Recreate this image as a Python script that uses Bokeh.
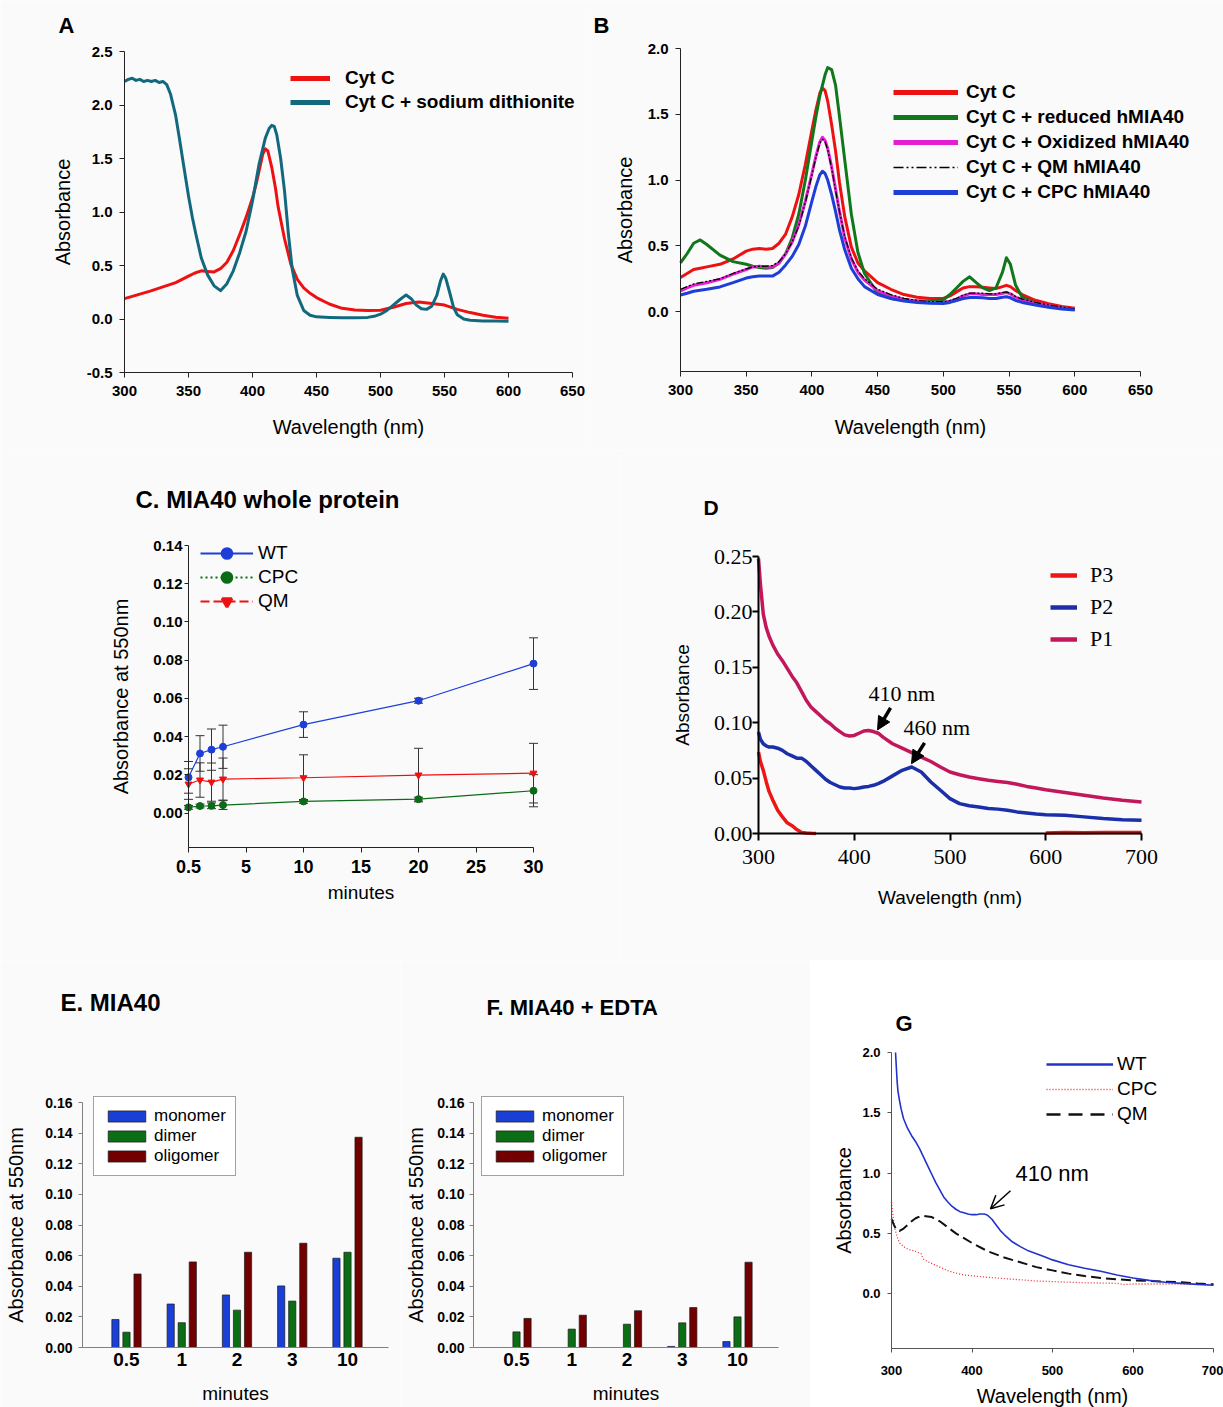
from bokeh.plotting import figure
from bokeh.layouts import column, row
from bokeh.models import (Range1d, FixedTicker, PrintfTickFormatter, Legend, LegendItem, Label,
                          Whisker, TeeHead, ColumnDataSource, Arrow, NormalHead, OpenHead)
from bokeh.embed import file_html
from bokeh.resources import INLINE

NAN = float("nan")

# ======================= DATA =======================
# ---- Panel A ----
a_wl_cytc = [300, 310, 320, 330, 340, 350, 355, 360, 365, 370, 375, 380, 385, 390, 395,
             400, 403, 406, 408, 410, 412, 415, 418, 420, 425, 430, 435, 440, 445, 450,
             460, 470, 480, 490, 500, 510, 520, 530, 540, 550, 560, 570, 580, 590, 600]
a_abs_cytc = [0.19, 0.225, 0.26, 0.30, 0.34, 0.40, 0.43, 0.45, 0.445, 0.44, 0.47, 0.53, 0.64, 0.79, 0.95,
              1.13, 1.27, 1.43, 1.54, 1.59, 1.57, 1.42, 1.22, 1.05, 0.75, 0.51, 0.37, 0.29, 0.24, 0.20,
              0.14, 0.10, 0.085, 0.08, 0.082, 0.11, 0.145, 0.158, 0.145, 0.13, 0.09, 0.06, 0.035, 0.016, 0.006]
a_wl_dith = [300, 303, 306, 309, 312, 315, 318, 321, 324, 327, 330, 333, 336, 340, 343,
             346, 350, 353, 356, 360, 365, 370, 375, 380, 385, 390, 395, 400, 405, 410,
             413, 415, 417, 419, 422, 425, 428, 431, 435, 440, 445, 450, 460, 470, 480,
             490, 495, 500, 505, 510, 515, 520, 524, 528, 532, 536, 540, 544, 547, 549,
             551, 554, 557, 560, 565, 570, 580, 590, 600]
a_abs_dith = [2.22, 2.24, 2.25, 2.23, 2.24, 2.22, 2.23, 2.22, 2.23, 2.21, 2.22, 2.19, 2.10, 1.90, 1.68,
              1.45, 1.15, 0.95, 0.78, 0.57, 0.41, 0.31, 0.265, 0.33, 0.45, 0.62, 0.82, 1.10, 1.44, 1.69,
              1.78, 1.81, 1.80, 1.72, 1.50, 1.20, 0.80, 0.47, 0.22, 0.08, 0.035, 0.02, 0.015, 0.012, 0.012,
              0.015, 0.025, 0.045, 0.08, 0.13, 0.18, 0.225, 0.19, 0.13, 0.095, 0.09, 0.12, 0.22, 0.36, 0.42,
              0.38, 0.25, 0.11, 0.04, 0.0, -0.012, -0.018, -0.019, -0.02]
a_series = ["Cyt C", "Cyt C + sodium dithionite"]

# ---- Panel B ----
b_wl = [300, 305, 310, 315, 320, 330, 340, 350, 355, 360, 365, 370, 375, 380, 385,
        390, 395, 400, 403, 406, 408, 410, 412, 415, 418, 421, 425, 430, 435, 440,
        450, 460, 470, 480, 490, 500, 505, 510, 515, 520, 525, 530, 535, 540, 545,
        548, 551, 555, 560, 570, 580, 590, 600]
b_cytc = [0.26, 0.29, 0.32, 0.33, 0.34, 0.36, 0.40, 0.46, 0.475, 0.48, 0.475, 0.48, 0.52, 0.59, 0.72,
          0.89, 1.12, 1.38, 1.53, 1.66, 1.70, 1.68, 1.60, 1.42, 1.22, 0.98, 0.72, 0.49, 0.37, 0.31,
          0.22, 0.17, 0.13, 0.11, 0.10, 0.10, 0.12, 0.15, 0.18, 0.19, 0.19, 0.185, 0.18, 0.175, 0.19,
          0.20, 0.19, 0.16, 0.13, 0.086, 0.06, 0.04, 0.025]
b_reduced = [0.37, 0.44, 0.52, 0.545, 0.51, 0.43, 0.38, 0.36, 0.345, 0.335, 0.33, 0.335, 0.37, 0.44, 0.56,
             0.74, 1.0, 1.30, 1.48, 1.64, 1.72, 1.80, 1.855, 1.84, 1.72, 1.48, 1.15, 0.74, 0.45, 0.29,
             0.14, 0.10, 0.086, 0.08, 0.08, 0.09, 0.13, 0.18, 0.23, 0.265, 0.22, 0.18, 0.16, 0.18, 0.30,
             0.41, 0.36, 0.20, 0.11, 0.065, 0.043, 0.03, 0.018]
b_oxidized = [0.158, 0.18, 0.20, 0.21, 0.22, 0.245, 0.285, 0.32, 0.34, 0.345, 0.34, 0.34, 0.37, 0.44, 0.53,
              0.66, 0.84, 1.05, 1.18, 1.29, 1.325, 1.30, 1.24, 1.10, 0.93, 0.76, 0.56, 0.40, 0.30, 0.24,
              0.16, 0.12, 0.095, 0.08, 0.07, 0.07, 0.08, 0.095, 0.12, 0.135, 0.135, 0.13, 0.13, 0.13, 0.14,
              0.145, 0.135, 0.11, 0.09, 0.065, 0.045, 0.03, 0.018]
b_qm = [0.17, 0.19, 0.21, 0.22, 0.23, 0.25, 0.29, 0.325, 0.34, 0.345, 0.345, 0.35, 0.38, 0.44, 0.53,
        0.65, 0.83, 1.04, 1.17, 1.28, 1.31, 1.29, 1.23, 1.09, 0.92, 0.76, 0.57, 0.41, 0.31, 0.25,
        0.17, 0.13, 0.10, 0.085, 0.075, 0.075, 0.085, 0.10, 0.125, 0.14, 0.14, 0.14, 0.135, 0.135, 0.145,
        0.15, 0.14, 0.115, 0.095, 0.07, 0.05, 0.035, 0.02]
b_cpc = [0.127, 0.14, 0.155, 0.163, 0.17, 0.188, 0.22, 0.255, 0.265, 0.27, 0.27, 0.27, 0.30, 0.355, 0.42,
         0.51, 0.65, 0.84, 0.95, 1.04, 1.067, 1.05, 1.0, 0.89, 0.76, 0.62, 0.47, 0.33, 0.25, 0.19,
         0.13, 0.10, 0.08, 0.07, 0.063, 0.062, 0.07, 0.085, 0.10, 0.108, 0.108, 0.105, 0.10, 0.10, 0.11,
         0.113, 0.105, 0.085, 0.07, 0.05, 0.033, 0.02, 0.012]
b_series = ["Cyt C", "Cyt C + reduced hMIA40", "Cyt C + Oxidized hMIA40", "Cyt C + QM hMIA40",
            "Cyt C + CPC hMIA40"]

# ---- Panel C ----
c_time_labels = ["0.5", "1", "2", "3", "10", "20", "30"]
c_time_pos = [0, 1, 2, 3, 10, 20, 30]          # where each time point sits on the drawn axis
c_wt = [0.0187, 0.0312, 0.0332, 0.0347, 0.0463, 0.0588, 0.0782]
c_wt_err = [0.0083, 0.0093, 0.0108, 0.0113, 0.0067, 0.0013, 0.0135]
c_cpc = [0.0030, 0.0037, 0.0038, 0.0042, 0.0061, 0.0073, 0.0117]
c_cpc_err = [0.001, 0.001, 0.0015, 0.0023, 0.001, 0.001, 0.0084]
c_qm = [0.0152, 0.0173, 0.0162, 0.0178, 0.0185, 0.0199, 0.0209]
c_qm_err = [0.008, 0.009, 0.010, 0.011, 0.012, 0.014, 0.0156]
c_series = ["WT", "CPC", "QM"]

# ---- Panel D ----
d_wl = [300, 302, 305, 308, 311, 315, 320, 325, 330, 335,
        340, 345, 350, 355, 360, 365, 370, 375, 380, 385,
        390, 395, 400, 405, 410, 415, 420, 425, 430, 440,
        450, 460, 470, 480, 490, 500, 510, 520, 530, 540,
        550, 560, 570, 580, 590, 600, 620, 640, 660, 680, 700]
d_p1 = [0.248, 0.225, 0.198, 0.186, 0.178, 0.170, 0.162, 0.156, 0.149, 0.142,
        0.136, 0.128, 0.120, 0.114, 0.110, 0.106, 0.102, 0.099, 0.095, 0.092,
        0.089, 0.088, 0.0885, 0.0905, 0.0925, 0.093, 0.092, 0.0905, 0.087, 0.081,
        0.077, 0.073, 0.069, 0.065, 0.060, 0.0555, 0.053, 0.051, 0.0495, 0.048,
        0.047, 0.046, 0.0445, 0.0425, 0.041, 0.0395, 0.037, 0.0345, 0.032, 0.030, 0.0285]
d_p2 = [0.0915, 0.085, 0.081, 0.079, 0.078, 0.078, 0.077, 0.075, 0.072, 0.070,
        0.068, 0.068, 0.065, 0.061, 0.057, 0.053, 0.049, 0.046, 0.044, 0.042,
        0.041, 0.041, 0.0405, 0.041, 0.042, 0.0425, 0.0435, 0.045, 0.047, 0.052,
        0.057, 0.0600, 0.0555, 0.0465, 0.039, 0.0315, 0.027, 0.025, 0.024, 0.0225,
        0.022, 0.021, 0.0195, 0.0185, 0.0175, 0.017, 0.0165, 0.015, 0.0135, 0.0125, 0.012]
d_wl_p3 = [300, 302, 305, 308, 311, 315, 320, 325, 330, 335, 340, 345, 350,
           355, 360, 380, 420, 480, 540, 580, 600, 620, 640, 660, 680, 700]
d_p3 = [0.0735, 0.065, 0.057, 0.047, 0.038, 0.030, 0.021, 0.015, 0.0096, 0.007, 0.0036, 0.001, 0.0005,
        0.0002, 0.0, NAN, NAN, NAN, NAN, NAN, 0.0005, 0.0008, 0.0006, 0.001, 0.0008, 0.001]
d_series = ["P3", "P2", "P1"]

# ---- Panels E / F ----
ef_minutes = ["0.5", "1", "2", "3", "10"]
e_monomer = [0.0183, 0.0284, 0.0343, 0.0402, 0.0583]
e_dimer = [0.0100, 0.0162, 0.0244, 0.0303, 0.0622]
e_oligomer = [0.0480, 0.0559, 0.0622, 0.0681, 0.1373]
f_monomer = [0.0, 0.0, 0.0, 0.0007, 0.0039]
f_dimer = [0.0102, 0.0120, 0.0152, 0.0161, 0.0200]
f_oligomer = [0.0190, 0.0211, 0.0240, 0.0261, 0.0557]
ef_series = ["monomer", "dimer", "oligomer"]

# ---- Panel G ----
g_wl_wt = [305, 306, 307, 308, 310, 312, 315, 320, 325,
           330, 335, 340, 345, 350, 355, 360, 365, 370, 375,
           380, 385, 390, 395, 400, 405, 410, 415, 418, 421,
           425, 430, 435, 440, 450, 460, 470, 480, 490, 500,
           520, 540, 560, 580, 600, 620, 640, 660, 680, 700]
g_wt = [2.0, 1.88, 1.76, 1.68, 1.60, 1.53, 1.45, 1.37, 1.31,
        1.26, 1.20, 1.13, 1.06, 0.99, 0.92, 0.86, 0.80, 0.76, 0.725,
        0.70, 0.68, 0.67, 0.66, 0.655, 0.655, 0.66, 0.66, 0.655, 0.64,
        0.615, 0.57, 0.525, 0.49, 0.43, 0.39, 0.355, 0.33, 0.305, 0.28,
        0.24, 0.21, 0.185, 0.155, 0.13, 0.11, 0.095, 0.085, 0.077, 0.07]
g_wl_qm = [300, 303, 306, 310, 315, 320, 325, 330, 335, 340,
           345, 350, 360, 370, 380, 390, 400, 420, 440, 460,
           480, 500, 520, 540, 560, 580, 600, 620, 640, 660, 680, 700]
g_qm = [0.62, 0.57, 0.53, 0.52, 0.54, 0.57, 0.60, 0.625, 0.64, 0.645,
        0.64, 0.635, 0.60, 0.55, 0.50, 0.46, 0.42, 0.35, 0.30, 0.26,
        0.22, 0.193, 0.166, 0.146, 0.13, 0.119, 0.11, 0.105, 0.099, 0.094, 0.085, 0.077]
g_wl_cpc = [300, 301, 302, 303, 305, 307, 310, 315, 320, 325,
            330, 335, 337, 338, 340, 345, 350, 360, 370, 380,
            390, 400, 420, 440, 460, 480, 500, 520, 540, 560,
            580, 590, 600, 620, 640, 660, 680, 700]
g_cpc = [0.76, 0.70, 0.64, 0.58, 0.52, 0.47, 0.42, 0.39, 0.37, 0.36,
         0.35, 0.335, 0.33, 0.31, 0.285, 0.265, 0.25, 0.22, 0.19, 0.17,
         0.155, 0.148, 0.135, 0.125, 0.115, 0.105, 0.10, 0.095, 0.09, 0.088,
         0.085, 0.075, 0.08, 0.08, 0.08, 0.08, 0.078, 0.077]
g_series = ["WT", "CPC", "QM"]

# ======================= STYLE HELPERS =======================
SANS = "Liberation Sans"
SERIF = "Liberation Serif"
BG = "#fafafa"


def make_panel(w, h, box, xlim, ylim, bg=BG):
    """Figure whose frame is the whole canvas; the axes sit at fixed data
    locations so that the axis box lands at `box` (left, right, top, bottom px)."""
    l, r, t, b = box
    x0, x1 = xlim
    y0, y1 = ylim
    sx = (x1 - x0) / (r - l)
    sy = (y1 - y0) / (b - t)
    xr = Range1d(x0 - l * sx, x1 + (w - r) * sx)
    yr = Range1d(y0 - (h - b) * sy, y1 + t * sy)
    p = figure(width=w, height=h, x_range=xr, y_range=yr, output_backend="svg",
               toolbar_location=None, title=None, min_border=0, min_border_left=0,
               min_border_right=0, min_border_top=0, min_border_bottom=0)
    p.frame_align = False
    p.background_fill_color = bg
    p.border_fill_color = bg
    p.outline_line_color = None
    p.xgrid.visible = False
    p.ygrid.visible = False
    p.xaxis.fixed_location = y0
    p.xaxis.bounds = (x0, x1)
    p.yaxis.fixed_location = x0
    p.yaxis.bounds = (y0, y1)
    return p


def style_axis(ax, ticks=None, fmt=None, overrides=None, size="15px", font=SANS, bold=True,
               color="#222222", lw=1, tick_out=5, standoff=5, label="", label_size="20px",
               label_standoff=10, label_font=SANS):
    if ticks is not None:
        ax.ticker = FixedTicker(ticks=ticks)
    if fmt is not None:
        ax.formatter = PrintfTickFormatter(format=fmt)
    if overrides is not None:
        ax.major_label_overrides = overrides
    ax.axis_line_color = color
    ax.axis_line_width = lw
    ax.major_tick_line_color = color if tick_out > 0 else None
    ax.major_tick_line_width = lw
    ax.major_tick_out = tick_out
    ax.major_tick_in = 0
    ax.minor_tick_line_color = None
    ax.major_label_text_font = font
    ax.major_label_text_font_size = size
    ax.major_label_text_font_style = "bold" if bold else "normal"
    ax.major_label_text_color = "black"
    ax.major_label_standoff = standoff
    ax.axis_label = label
    ax.axis_label_text_font = label_font
    ax.axis_label_text_font_size = label_size
    ax.axis_label_text_font_style = "normal"
    ax.axis_label_text_color = "black"
    ax.axis_label_standoff = label_standoff


def add_legend(p, labels, renderers, x, y, gw, gh, spacing, standoff, size, style="normal",
               font=SANS, padding=0, border=None, bg_alpha=0.0, label_h=None):
    lg = Legend(items=[LegendItem(label=l, renderers=r) for l, r in zip(labels, renderers)],
                location=(x, y), glyph_width=gw, glyph_height=gh,
                label_height=label_h if label_h is not None else gh,
                spacing=spacing, padding=padding, margin=0, label_standoff=standoff,
                border_line_color=border, background_fill_color="white",
                background_fill_alpha=bg_alpha, inactive_fill_alpha=0.0,
                label_text_font=font, label_text_font_size=size, label_text_font_style=style,
                label_text_color="black")
    p.add_layout(lg)
    return lg


def panel_label(p, text, x, y, size="22px"):
    p.add_layout(Label(x=x, y=y, x_units="screen", y_units="screen", text=text,
                       text_font=SANS, text_font_size=size, text_font_style="bold",
                       text_color="black", text_baseline="middle", text_align="left"))


def hidden_line(p, xs, ys, **kw):
    r = p.line(xs, ys, **kw)
    r.visible = False
    return r


# ======================= PANEL A =======================
pA = make_panel(590, 450, (124, 572, 51, 372), (300, 650), (-0.5, 2.5))
style_axis(pA.xaxis[0], ticks=[300, 350, 400, 450, 500, 550, 600, 650], tick_out=5, standoff=8,
           label="Wavelength (nm)", label_standoff=17)
style_axis(pA.yaxis[0], ticks=[-0.5, 0, 0.5, 1.0, 1.5, 2.0, 2.5], fmt="%.1f", tick_out=5,
           standoff=7, label="Absorbance", label_standoff=10)
A_RED, A_TEAL = "#ee1111", "#12697e"
pA.line(a_wl_cytc, a_abs_cytc, line_color=A_RED, line_width=3, line_join="round")
pA.line(a_wl_dith, a_abs_dith, line_color=A_TEAL, line_width=3, line_join="round")
la = [[hidden_line(pA, a_wl_cytc, a_abs_cytc, line_color=A_RED, line_width=5)],
      [hidden_line(pA, a_wl_dith, a_abs_dith, line_color=A_TEAL, line_width=5)]]
add_legend(pA, a_series, la, 290, 337, 40, 22, 2, 15, "19px", style="bold")
panel_label(pA, "A", 58, 425)

# ======================= PANEL B =======================
pB = make_panel(633, 450, (90, 550, 48, 371), (300, 650), (-0.455, 2.0))
style_axis(pB.xaxis[0], ticks=[300, 350, 400, 450, 500, 550, 600, 650], tick_out=5, standoff=8,
           label="Wavelength (nm)", label_standoff=18)
style_axis(pB.yaxis[0], ticks=[0, 0.5, 1.0, 1.5, 2.0], fmt="%.1f", tick_out=5, standoff=7,
           label="Absorbance", label_standoff=9)
B_COLORS = ["#ee1111", "#11771b", "#e61ed2", "#000000", "#1f3ed6"]
b_values = [b_cytc, b_reduced, b_oxidized, b_qm, b_cpc]
b_leg = []
for i, (vals, col) in enumerate(zip(b_values, B_COLORS)):
    if i == 3:
        pB.line(b_wl, vals, line_color=col, line_width=1.3, line_dash="7 2 2 2 2 2")
        b_leg.append([hidden_line(pB, b_wl, vals, line_color=col, line_width=1.5,
                                  line_dash="10 3 2 3 2 3")])
    else:
        pB.line(b_wl, vals, line_color=col, line_width=3, line_join="round")
        b_leg.append([hidden_line(pB, b_wl, vals, line_color=col, line_width=5)])
add_legend(pB, b_series, b_leg, 303, 247, 65, 22, 3, 8, "19px", style="bold")
panel_label(pB, "B", 3, 425)

# ======================= PANEL C =======================
pC = make_panel(620, 510, (188, 533, 95, 397), (0, 30), (-0.018, 0.14))
style_axis(pC.xaxis[0], ticks=[0, 5, 10, 15, 20, 25, 30], overrides={0: c_time_labels[0]},
           size="18px", tick_out=5, standoff=7, label="minutes", label_size="19px", label_standoff=6)
style_axis(pC.yaxis[0], ticks=[0, 0.02, 0.04, 0.06, 0.08, 0.10, 0.12, 0.14], fmt="%.2f",
           size="15px", tick_out=4, standoff=2, label="Absorbance at 550nm", label_standoff=18)
C_COLORS = ["#1d3fd8", "#0b6b16", "#ee1111"]
c_vals = [c_wt, c_cpc, c_qm]
c_errs = [c_wt_err, c_cpc_err, c_qm_err]
for vals, errs in zip(c_vals, c_errs):
    src = ColumnDataSource(dict(x=c_time_pos, lo=[v - e for v, e in zip(vals, errs)],
                                hi=[v + e for v, e in zip(vals, errs)]))
    pC.add_layout(Whisker(source=src, base="x", upper="hi", lower="lo", line_color="#333333",
                          line_width=1, upper_head=TeeHead(size=9, line_color="#333333"),
                          lower_head=TeeHead(size=9, line_color="#333333")))
markers = ["circle", "circle", "inverted_triangle"]
for vals, col, mk in zip(c_vals, C_COLORS, markers):
    pC.line(c_time_pos, vals, line_color=col, line_width=1.2)
    pC.scatter(c_time_pos, vals, marker=mk, size=7, fill_color=col, line_color=col)
dashes = ["solid", "2 3", "9 4"]
c_leg = []
for vals, col, mk, ds in zip(c_vals, C_COLORS, markers, dashes):
    l = hidden_line(pC, c_time_pos, vals, line_color=col, line_width=2, line_dash=ds)
    s = pC.scatter(c_time_pos, vals, marker=mk, size=12, fill_color=col, line_color=col,
                   line_width=3)
    s.visible = False
    c_leg.append([l, s])
add_legend(pC, c_series, c_leg, 200, 347, 53, 24, 0, 5, "19px")
panel_label(pC, "C. MIA40 whole protein", 135, 461, size="24px")

# ======================= PANEL D =======================
pD = make_panel(603, 510, (138, 521, 106, 383), (300, 700), (0, 0.25))
style_axis(pD.xaxis[0], ticks=[300, 400, 500, 600, 700], font=SERIF, bold=False, size="22px",
           color="black", lw=2, tick_out=7, standoff=9, label="Wavelength (nm)",
           label_size="19px", label_standoff=20)
style_axis(pD.yaxis[0], ticks=[0, 0.05, 0.10, 0.15, 0.20, 0.25], fmt="%.2f", font=SERIF,
           bold=False, size="22px", color="black", lw=2, tick_out=6, standoff=0,
           label="Absorbance", label_size="19px", label_standoff=18)
D_COLORS = ["#ee1515", "#1a2fa8", "#c2185b"]
pD.line(d_wl_p3, d_p3, line_color=D_COLORS[0], line_width=3.5, line_join="round")
pD.line(d_wl, d_p2, line_color=D_COLORS[1], line_width=3.5, line_join="round")
pD.line(d_wl, d_p1, line_color=D_COLORS[2], line_width=3.5, line_join="round")
d_leg = [[hidden_line(pD, d_wl_p3, d_p3, line_color=D_COLORS[0], line_width=4.5)],
         [hidden_line(pD, d_wl, d_p2, line_color=D_COLORS[1], line_width=4.5)],
         [hidden_line(pD, d_wl, d_p1, line_color=D_COLORS[2], line_width=4.5)]]
add_legend(pD, d_series, d_leg, 430, 308, 27, 26, 6, 13, "22px", font=SERIF)
for txt, tx, ty in [("410 nm", 414.9, 0.126), ("460 nm", 451.4, 0.0953)]:
    pD.add_layout(Label(x=tx, y=ty, text=txt, text_font=SERIF, text_font_size="22px",
                        text_color="black", text_baseline="middle", text_align="left"))
for xs, ys, xe, ye in [(437.9, 0.1133, 424.3, 0.0935), (473.4, 0.0818, 459.8, 0.063)]:
    pD.add_layout(Arrow(end=NormalHead(size=13, fill_color="black", line_color="black"),
                        x_start=xs, y_start=ys, x_end=xe, y_end=ye,
                        line_color="black", line_width=3.5))
panel_label(pD, "D", 83, 453, size="21px")

# ======================= PANELS E / F =======================
EF_COLORS = ["#1a3fd6", "#0b6e14", "#730000"]
ef_pos = list(range(len(ef_minutes)))


def bar_panel(w, box, xlim, mon, dim, oli, title, tx, ty, tsize, leg_x, tick_standoff,
              lab_standoff):
    p = make_panel(w, 447, box, xlim, (0, 0.16))
    style_axis(p.xaxis[0], ticks=ef_pos, overrides={i: m for i, m in zip(ef_pos, ef_minutes)},
               size="19px", color="#808080", tick_out=0, standoff=5,
               label="minutes", label_size="19px", label_standoff=14)
    style_axis(p.yaxis[0], ticks=[0, 0.02, 0.04, 0.06, 0.08, 0.10, 0.12, 0.14, 0.16], fmt="%.2f",
               size="14px", color="#808080", tick_out=4, standoff=tick_standoff,
               label="Absorbance at 550nm", label_standoff=lab_standoff)
    rs = []
    for vals, off, col in zip([mon, dim, oli], [-0.2, 0.0, 0.2], EF_COLORS):
        rs.append([p.vbar(x=[i + off for i in ef_pos], top=vals, width=0.13,
                          fill_color=col, line_color="#1a1a1a", line_width=0.7)])
    add_legend(p, ef_series, rs, leg_x, 231, 47, 14, 0, 4, "17px", padding=9,
               border="#444444", bg_alpha=1.0, label_h=20)
    panel_label(p, title, tx, ty, size=tsize)
    return p


pE = bar_panel(400, (82, 388, 142, 387), (-0.796, 4.742), e_monomer, e_dimer, e_oligomer,
               "E. MIA40", 60, 405, "24px", 93, 6, 15)
pF = bar_panel(410, (73, 378, 142, 387), (-0.778, 4.742), f_monomer, f_dimer, f_oligomer,
               "F. MIA40 + EDTA", 86, 400, "22px", 81, 5, 7)

# ======================= PANEL G =======================
pG = make_panel(413, 447, (81, 403, 92, 388), (300, 700), (-0.455, 2.0), bg="#ffffff")
style_axis(pG.xaxis[0], ticks=[300, 400, 500, 600, 700], size="13px", color="#555555",
           tick_out=4, standoff=13, label="Wavelength (nm)", label_size="20px", label_standoff=7)
style_axis(pG.yaxis[0], ticks=[0, 0.5, 1.0, 1.5, 2.0], fmt="%.1f", size="13px", color="#555555",
           tick_out=4, standoff=7, label="Absorbance", label_size="20px", label_standoff=4)
G_COLORS = ["#2233cc", "#e53030", "#111111"]
pG.line(g_wl_cpc, g_cpc, line_color=G_COLORS[1], line_width=1.3, line_dash="1 2")
pG.line(g_wl_qm, g_qm, line_color=G_COLORS[2], line_width=2, line_dash="10 5")
pG.line(g_wl_wt, g_wt, line_color=G_COLORS[0], line_width=1.6)
g_leg = [[hidden_line(pG, g_wl_wt, g_wt, line_color=G_COLORS[0], line_width=2.5)],
         [hidden_line(pG, g_wl_cpc, g_cpc, line_color=G_COLORS[1], line_width=1.5, line_dash="1 2")],
         [hidden_line(pG, g_wl_qm, g_qm, line_color=G_COLORS[2], line_width=2.5, line_dash="14 8")]]
add_legend(pG, g_series, g_leg, 236, 282, 67, 22, 3, 4, "19px")
pG.add_layout(Label(x=454, y=0.993, text="410 nm", text_font=SANS, text_font_size="22px",
                    text_color="black", text_baseline="middle", text_align="left"))
pG.add_layout(Arrow(end=OpenHead(size=13, line_color="black", line_width=1.5),
                    x_start=447.8, y_start=0.853, x_end=423.0, y_end=0.704,
                    line_color="black", line_width=1.5))
panel_label(pG, "G", 85, 384)

layout = column(row(pA, pB), row(pC, pD), row(pE, pF, pG))
open("out.html", "w").write(file_html(layout, INLINE, title="Cytochrome c spectra"))
